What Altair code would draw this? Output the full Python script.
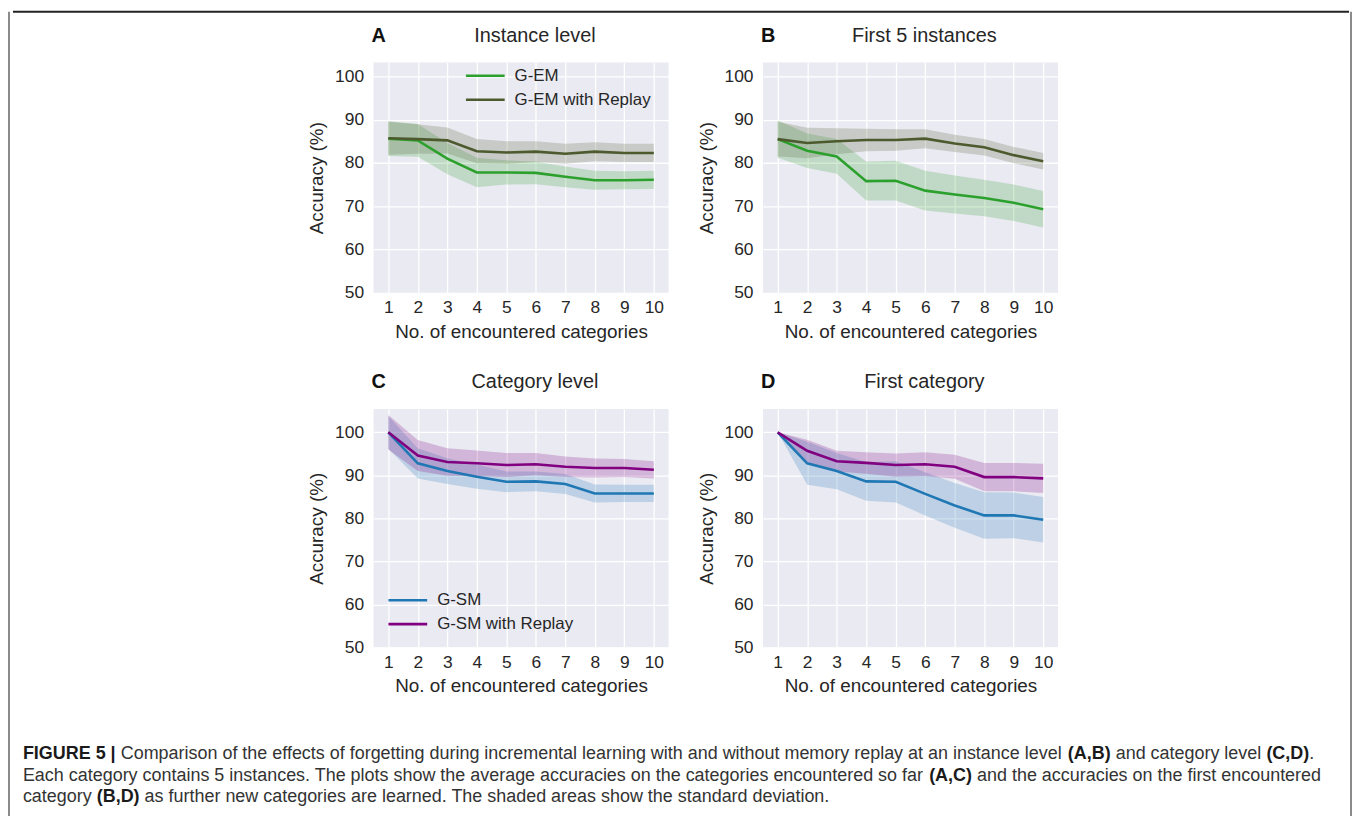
import altair as alt
import pandas as pd

# ---------------- data ----------------
x_vals = [1, 2, 3, 4, 5, 6, 7, 8, 9, 10]

# Panel A: instance level
A_names = ["G-EM", "G-EM with Replay"]
A_gem = [85.6, 85.2, 81.0, 77.8, 77.8, 77.7, 76.8, 76.0, 76.0, 76.1]
A_gem_sd = [4.0, 3.8, 3.6, 3.4, 2.8, 2.6, 2.4, 2.2, 2.1, 2.1]
A_rep = [85.7, 85.5, 85.2, 82.7, 82.4, 82.6, 82.1, 82.6, 82.3, 82.3]
A_rep_sd = [3.8, 3.4, 3.0, 2.8, 2.6, 2.4, 2.3, 2.2, 2.1, 2.1]

# Panel B: first 5 instances
B_gem = [85.5, 82.8, 81.5, 75.8, 75.9, 73.6, 72.7, 71.9, 70.8, 69.3]
B_gem_sd = [4.3, 4.0, 4.0, 4.5, 4.6, 4.6, 4.4, 4.2, 4.2, 4.2]
B_rep = [85.5, 84.6, 85.0, 85.3, 85.3, 85.6, 84.5, 83.6, 81.8, 80.4]
B_rep_sd = [4.0, 3.5, 3.0, 2.6, 2.5, 2.2, 2.0, 1.9, 1.9, 1.9]

# Panel C: category level
C_names = ["G-SM", "G-SM with Replay"]
C_gsm = [100.0, 92.8, 91.0, 89.7, 88.5, 88.6, 88.0, 85.8, 85.8, 85.8]
C_gsm_sd = [3.8, 3.5, 3.0, 2.8, 2.4, 2.3, 2.3, 2.1, 2.0, 2.0]
C_rep = [100.0, 94.6, 93.1, 92.8, 92.4, 92.6, 92.0, 91.7, 91.7, 91.3]
C_rep_sd = [4.0, 3.6, 3.2, 3.0, 2.8, 2.6, 2.4, 2.2, 2.1, 2.0]

# Panel D: first category
D_gsm = [100.0, 92.8, 91.0, 88.6, 88.5, 85.7, 83.0, 80.7, 80.7, 79.7]
D_gsm_sd = [0.0, 5.0, 4.2, 4.5, 4.8, 5.0, 5.2, 5.4, 5.3, 5.3]
D_rep = [100.0, 95.7, 93.3, 92.9, 92.4, 92.6, 92.0, 89.6, 89.6, 89.3]
D_rep_sd = [0.0, 2.6, 2.4, 2.5, 2.7, 2.8, 2.8, 3.3, 3.3, 3.4]

y_ticks = [50, 60, 70, 80, 90, 100]

caption_lines = [
    [("FIGURE 5 |", True),
     (" Comparison of the effects of forgetting during incremental learning with and without memory replay at an instance level ", False),
     ("(A,B)", True), (" and category level ", False), ("(C,D)", True), (".", False)],
    [("Each category contains 5 instances. The plots show the average accuracies on the categories encountered so far ", False),
     ("(A,C)", True), (" and the accuracies on the first encountered", False)],
    [("category ", False), ("(B,D)", True),
     (" as further new categories are learned. The shaded areas show the standard deviation.", False)],
]

# ---------------- style ----------------
FONT = "Liberation Sans"
TXT = "#262626"
BG = "#EAEAF2"
GREEN = "#2ca02c"
OLIVE = "#4c5a2e"
BLUE = "#1f77b4"
PURPLE = "#800080"
W = 297


def panel_df(names, means, sds):
    rows = []
    for name, m, s in zip(names, means, sds):
        for xv, mv, sv in zip(x_vals, m, s):
            rows.append({"x": xv, "series": name, "mean": mv, "lo": mv - sv, "hi": mv + sv})
    return pd.DataFrame(rows)


def make_panel(letter, title, names, colors, means, sds, ymax, h, legend=None):
    df = panel_df(names, means, sds)
    xaxis = alt.Axis(values=x_vals, title="No. of encountered categories", format="d")
    yaxis = alt.Axis(values=y_ticks, title="Accuracy (%)", format="d")
    xenc = alt.X("x:Q", scale=alt.Scale(domain=[0.5, 10.5], nice=False, zero=False), axis=xaxis)
    yscale = alt.Scale(domain=[50, ymax], nice=False, zero=False)
    cscale = alt.Scale(domain=names, range=colors)
    band = alt.Chart(df).mark_area(opacity=0.22, clip=True).encode(
        x=xenc,
        y=alt.Y("lo:Q", scale=yscale, axis=yaxis, stack=None),
        y2="hi:Q",
        color=alt.Color("series:N", scale=cscale, legend=legend),
    )
    line = alt.Chart(df).mark_line(strokeWidth=2.6, clip=True).encode(
        x=xenc,
        y=alt.Y("mean:Q", scale=yscale, axis=yaxis),
        color=alt.Color("series:N", scale=cscale, legend=legend),
    )
    lab = alt.Chart(pd.DataFrame({"t": [letter], "u": [title]}))
    letter_mark = lab.mark_text(align="left", baseline="alphabetic", font=FONT, fontSize=20,
                                fontWeight="bold", color="#111111").encode(
        text="t:N", x=alt.value(-2), y=alt.value(-21))
    title_mark = lab.mark_text(align="center", baseline="alphabetic", font=FONT, fontSize=20,
                               color=TXT).encode(
        text="u:N", x=alt.value(W / 2 + 14), y=alt.value(-21))
    return alt.layer(band, line, letter_mark, title_mark).properties(
        width=W, height=h, view=alt.ViewBackground(fill=BG, stroke=None))


def make_legend(lx, ly):
    # custom horizontal stroke, twice as wide as the symbol box
    return alt.Legend(orient="none", legendX=lx, legendY=ly, title=None, symbolType="M-2,0H2",
                      symbolSize=380, symbolStrokeWidth=2.6, symbolOpacity=1,
                      labelFont=FONT, labelFontSize=17, labelColor=TXT, labelOffset=18,
                      rowPadding=4, padding=0)


pA = make_panel("A", "Instance level", A_names, [GREEN, OLIVE], [A_gem, A_rep], [A_gem_sd, A_rep_sd],
                103.2, 232, make_legend(101, 2))
pB = make_panel("B", "First 5 instances", A_names, [GREEN, OLIVE], [B_gem, B_rep], [B_gem_sd, B_rep_sd],
                103.2, 232)
pC = make_panel("C", "Category level", C_names, [BLUE, PURPLE], [C_gsm, C_rep], [C_gsm_sd, C_rep_sd],
                105.4, 240, make_legend(23, 181))
pD = make_panel("D", "First category", C_names, [BLUE, PURPLE], [D_gsm, D_rep], [D_gsm_sd, D_rep_sd],
                105.4, 240)


def indep(c):
    return c.resolve_scale(x="independent", y="independent", color="independent").resolve_legend(
        color="independent")


row1 = indep(alt.hconcat(pA, pB, spacing=28))
row2 = indep(alt.hconcat(pC, pD, spacing=28))
grid = indep(alt.vconcat(row1, row2, spacing=31))

one = pd.DataFrame({"k": [0]})
spacer = alt.Chart(one).mark_point(opacity=0).encode(
    x=alt.value(0), y=alt.value(0)).properties(width=296, height=1)
grid_row = indep(alt.hconcat(spacer, grid, spacing=0))

# ---------------- caption ----------------
REG = {' ': 278, '(': 333, ')': 333, ',': 278, '.': 278, '|': 260, '-': 333, 'A': 667, 'B': 667,
       'C': 722, 'D': 722, 'E': 667, 'F': 611, 'G': 778, 'I': 278, 'R': 722, 'T': 611, 'U': 722,
       'a': 556, 'b': 556, 'c': 500, 'd': 556, 'e': 556, 'f': 278, 'g': 556, 'h': 556, 'i': 222,
       'j': 222, 'k': 500, 'l': 222, 'm': 833, 'n': 556, 'o': 556, 'p': 556, 'q': 556, 'r': 333,
       's': 500, 't': 278, 'u': 556, 'v': 500, 'w': 722, 'x': 500, 'y': 500, 'z': 500}
BOLD = {' ': 278, '(': 333, ')': 333, ',': 278, '.': 278, '|': 280, '5': 556, 'A': 722, 'B': 722,
        'C': 722, 'D': 722, 'E': 667, 'F': 611, 'G': 778, 'I': 278, 'R': 722, 'U': 722}


def em(s, bold):
    tab = BOLD if bold else REG
    return sum(tab.get(ch, 556) for ch in s) / 1000.0


line1_em = sum(em(s, b) for s, b in caption_lines[0])
CAP_FS = 1300.0 / line1_em
CAP_X0 = 10
CAP_Y0 = 52
CAP_DY = 22

seg_rows = []
for li, segs in enumerate(caption_lines):
    xpos = CAP_X0
    for s, b in segs:
        lead = len(s) - len(s.lstrip(' '))
        seg_rows.append({"text": s.strip(' '), "bold": b, "x": xpos + em(' ' * lead, b) * CAP_FS,
                         "y": CAP_Y0 + li * CAP_DY})
        xpos += em(s, b) * CAP_FS
seg_df = pd.DataFrame(seg_rows)

CAP_W = 1345
cap_base = alt.Chart(seg_df)
cap_reg = cap_base.transform_filter("!datum.bold").mark_text(
    align="left", baseline="middle", font=FONT, fontSize=CAP_FS, color="#333333").encode(
    x=alt.X("x:Q", scale=None), y=alt.Y("y:Q", scale=None), text="text:N")
cap_bold = cap_base.transform_filter("datum.bold").mark_text(
    align="left", baseline="middle", font=FONT, fontSize=CAP_FS, fontWeight="bold",
    color="#1a1a1a").encode(
    x=alt.X("x:Q", scale=None), y=alt.Y("y:Q", scale=None), text="text:N")
caption = alt.layer(cap_reg, cap_bold).properties(width=CAP_W, height=110)

# ---------------- frame ----------------
FRAME_H = 830
top_rule = alt.Chart(one).mark_rule(color="#222222", strokeWidth=2).encode(
    x=alt.value(0), x2=alt.value(CAP_W), y=alt.value(0)).properties(width=CAP_W, height=1)
left_rule = alt.Chart(one).mark_rule(color="#8a8a8a", strokeWidth=2).encode(
    x=alt.value(0), y=alt.value(0), y2=alt.value(FRAME_H)).properties(width=1, height=FRAME_H)
right_rule = alt.Chart(one).mark_rule(color="#8a8a8a", strokeWidth=2).encode(
    x=alt.value(0), y=alt.value(0), y2=alt.value(FRAME_H)).properties(width=1, height=FRAME_H)

inner = indep(alt.vconcat(grid_row, caption, spacing=6))
main = indep(alt.vconcat(top_rule, inner, spacing=13))
chart = indep(alt.hconcat(left_rule, main, right_rule, spacing=0)).properties(
    padding=0, background="white")

chart = chart.configure_view(stroke=None).configure_axis(
    labelFont=FONT, titleFont=FONT, labelFontSize=17.5, titleFontSize=19,
    labelColor=TXT, titleColor=TXT, titleFontWeight="normal",
    ticks=False, tickSize=0, domain=False, grid=True, gridColor="white", gridWidth=1.3,
).configure_axisX(labelPadding=6, titlePadding=6).configure_axisY(
    labelPadding=10, titlePadding=8)

chart.save("out.html", embed_options={"renderer": "svg", "actions": False})
